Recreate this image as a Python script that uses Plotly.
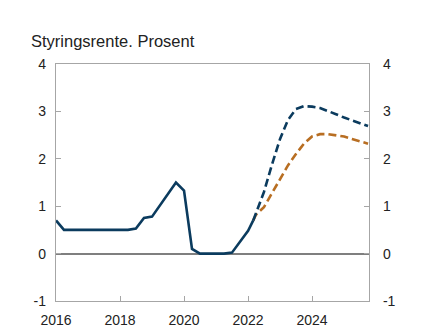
import plotly.graph_objects as go

# Policy rate, quarterly history (per cent)
hist_dates = [
    "2016-01-01", "2016-04-01", "2016-07-01", "2016-10-01",
    "2017-01-01", "2017-04-01", "2017-07-01", "2017-10-01",
    "2018-01-01", "2018-04-01", "2018-07-01", "2018-10-01",
    "2019-01-01", "2019-04-01", "2019-07-01", "2019-10-01",
    "2020-01-01", "2020-04-01", "2020-07-01", "2020-10-01",
    "2021-01-01", "2021-04-01", "2021-07-01", "2021-10-01",
    "2022-01-01", "2022-03-01",
]
hist_rate = [
    0.70, 0.50, 0.50, 0.50,
    0.50, 0.50, 0.50, 0.50,
    0.50, 0.50, 0.53, 0.75,
    0.78, 1.02, 1.27, 1.50,
    1.33, 0.10, 0.00, 0.00,
    0.00, 0.00, 0.02, 0.25,
    0.48, 0.70,
]

# Projections
fc_dates = [
    "2022-03-01", "2022-04-01", "2022-07-01", "2022-10-01",
    "2023-01-01", "2023-04-01", "2023-07-01", "2023-10-01",
    "2024-01-01", "2024-04-01", "2024-07-01", "2024-10-01",
    "2025-01-01", "2025-04-01", "2025-07-01", "2025-10-01",
]
fc_blue = [
    0.70, 0.85, 1.30, 1.88,
    2.42, 2.82, 3.05, 3.11,
    3.10, 3.07, 3.01, 2.94,
    2.87, 2.81, 2.75, 2.69,
]
fc_orange = [
    0.70, 0.82, 0.98, 1.28,
    1.55, 1.86, 2.10, 2.32,
    2.47, 2.52, 2.52, 2.50,
    2.47, 2.42, 2.37, 2.32,
]

year_ticks = ["2016-01-01", "2018-01-01", "2020-01-01", "2022-01-01", "2024-01-01"]
year_labels = ["2016", "2018", "2020", "2022", "2024"]
y_ticks = [-1, 0, 1, 2, 3, 4]
y_labels = ["-1", "0", "1", "2", "3", "4"]

BLUE = "#0b3b5e"
ORANGE = "#b86e22"
AXIS = "#a6a6a6"
FONT = "Liberation Sans, Arial, sans-serif"

fig = go.Figure()
fig.add_trace(go.Scatter(x=fc_dates, y=fc_orange, mode="lines",
                         line=dict(color=ORANGE, width=2.6, dash="8px,4px"),
                         hoverinfo="skip"))
fig.add_trace(go.Scatter(x=fc_dates, y=fc_blue, mode="lines",
                         line=dict(color=BLUE, width=2.6, dash="8px,4px"),
                         hoverinfo="skip"))
fig.add_trace(go.Scatter(x=hist_dates, y=hist_rate, mode="lines",
                         line=dict(color=BLUE, width=2.6),
                         hoverinfo="skip"))
# invisible trace to carry the right-hand axis
fig.add_trace(go.Scatter(x=[hist_dates[0]], y=[0], yaxis="y2", mode="lines",
                         line=dict(width=0), showlegend=False, hoverinfo="skip"))

fig.update_layout(
    width=428, height=336,
    margin=dict(l=56, r=59, t=64, b=35),
    paper_bgcolor="white", plot_bgcolor="white",
    showlegend=False,
    font=dict(family=FONT, size=14, color="#222222"),
    title=dict(text="Styringsrente. Prosent", x=31 / 428, xanchor="left",
               y=1 - 41 / 336, yanchor="middle",
               font=dict(family=FONT, size=16.5, color="#222222")),
    xaxis=dict(
        type="date",
        range=["2016-01-01", "2025-10-12"],
        tickvals=year_ticks, ticktext=year_labels,
        ticks="inside", ticklen=5, tickcolor=AXIS,
        ticklabelstandoff=6, automargin=False,
        showline=True, linecolor=AXIS, linewidth=1.3, mirror=True,
        showgrid=False, zeroline=False,
        tickfont=dict(size=14),
    ),
    yaxis=dict(
        range=[-1, 4], tickvals=y_ticks, ticktext=y_labels,
        ticks="inside", ticklen=5, tickcolor=AXIS,
        ticklabelstandoff=6, automargin=False,
        showline=True, linecolor=AXIS, linewidth=1.3,
        showgrid=False,
        zeroline=True, zerolinecolor="#7f7f7f", zerolinewidth=1.5,
        tickfont=dict(size=14),
    ),
    yaxis2=dict(
        range=[-1, 4], tickvals=y_ticks, ticktext=y_labels,
        overlaying="y", side="right",
        ticks="inside", ticklen=5, tickcolor=AXIS,
        ticklabelstandoff=10, automargin=False,
        showline=True, linecolor=AXIS, linewidth=1.3,
        showgrid=False, zeroline=False,
        tickfont=dict(size=14),
    ),
)

fig.write_html("out.html")
